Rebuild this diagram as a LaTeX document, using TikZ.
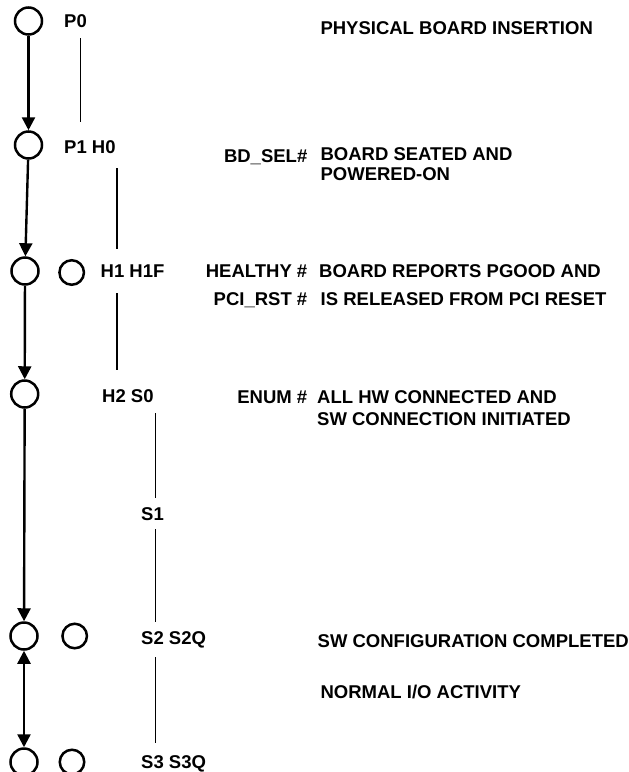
\documentclass[tikz,border=0pt]{standalone}
\usepackage{fontspec}
\setmainfont{Liberation Sans}
\usetikzlibrary{arrows.meta}
\begin{document}
\begin{tikzpicture}[x=1pt,y=-1pt,
  state/.style={circle,draw,line width=2.5pt,minimum size=27pt,inner sep=0pt},
  substate/.style={circle,draw,line width=2.5pt,minimum size=24.5pt,inner sep=0pt},
  txt/.style={font=\fontsize{18.5}{22}\selectfont\bfseries,inner sep=0pt},
  lbl/.style={txt,anchor=base west},
  sig/.style={txt,anchor=base east},
  flow/.style={line width=2.4pt,-{Triangle[length=13pt,width=13pt]}},
  bflow/.style={line width=2.4pt,{Triangle[length=13pt,width=13pt]}-{Triangle[length=13pt,width=13pt]}},
  tie/.style={line width=1.1pt}]
\useasboundingbox (0,0) rectangle (629,772);

% left column states
\node[state] (A0) at (28.5,21) {};
\node[state] (A1) at (28.5,145) {};
\node[state] (A2) at (25,271) {};
\node[state] (A3) at (24.7,394) {};
\node[state] (A4) at (24,636) {};
\node[state] (A5) at (24,762) {};
% second column states
\node[substate] (B2) at (71.7,272.5) {};
\node[substate] (B4) at (74.7,636) {};
\node[substate] (B5) at (72,762) {};

\draw[flow] (A0) -- (A1);
\draw[flow] (A1) -- (A2);
\draw[flow] (A2) -- (A3);
\draw[flow] (A3) -- (A4);
\draw[bflow] (A4) -- (A5);

% state labels
\node[lbl] (p0) at (64,27.5) {P0};
\node[lbl] (p1) at (64,153.5) {P1 H0};
\node[lbl] (h1) at (100.5,277.5) {H1 H1F};
\node[lbl] (h2) at (102,402.5) {H2 S0};
\node[lbl] (s1) at (141,520.5) {S1};
\node[lbl] (s2) at (141,644.5) {S2 S2Q};
\node[lbl] (s3) at (141,768.5) {S3 S3Q};

% thin tie lines
\coordinate (t1a) at (80.7,38);  \coordinate (t1b) at (80.7,122);
\coordinate (t2a) at (117,168);  \coordinate (t2b) at (117,249);
\coordinate (t3a) at (117,293);  \coordinate (t3b) at (117,370);
\coordinate (t4a) at (155.7,413); \coordinate (t4b) at (155.7,498);
\coordinate (t5a) at (155.7,529); \coordinate (t5b) at (155.7,622);
\coordinate (t6a) at (155.7,657); \coordinate (t6b) at (155.7,743);
\draw[tie] (t1a) -- (t1b);
\draw[tie] (t2a) -- (t2b);
\draw[tie] (t3a) -- (t3b);
\draw[tie] (t4a) -- (t4b);
\draw[tie] (t5a) -- (t5b);
\draw[tie] (t6a) -- (t6b);

% signals
\node[sig] (bdsel) at (307.5,162) {BD\_SEL\#};
\node[sig] (healthy) at (307.5,277.5) {HEALTHY \#};
\node[sig] (pcirst) at (307.5,305.5) {PCI\_RST \#};
\node[sig] (enum) at (307.5,403.5) {ENUM \#};

% descriptions
\node[lbl] (d0) at (320.3,34) {PHYSICAL BOARD INSERTION};
\node[lbl] (d1a) at (320.4,160.5) {BOARD SEATED AND};
\node[lbl] (d1b) at (320.4,180.5) {POWERED-ON};
\node[lbl] (d2a) at (319,277.5) {BOARD REPORTS PGOOD AND};
\node[lbl] (d2b) at (320.5,305) {IS RELEASED FROM PCI RESET};
\node[lbl] (d3a) at (317,403.5) {ALL HW CONNECTED AND};
\node[lbl] (d3b) at (317,425.5) {SW CONNECTION INITIATED};
\node[lbl] (d4) at (317.5,647.5) {SW CONFIGURATION COMPLETED};
\node[lbl] (d5) at (320.4,698.5) {NORMAL I/O ACTIVITY};
\end{tikzpicture}
\end{document}
